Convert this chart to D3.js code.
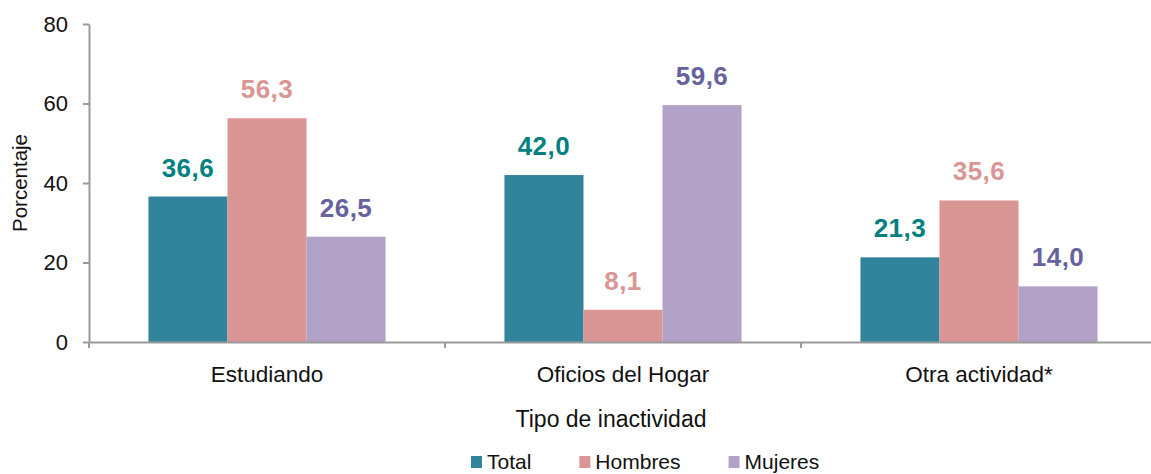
<!DOCTYPE html>
<html>
<head>
<meta charset="utf-8">
<script src="https://cdn.jsdelivr.net/npm/d3@7"></script>
<style>
  body{margin:0;background:#fff;}
  svg{display:block;font-family:"Liberation Sans",Arial,sans-serif;}
</style>
</head>
<body>
<div id="chart"></div>
<script>
const categories=["Estudiando","Oficios del Hogar","Otra actividad*"];
const seriesNames=["Total","Hombres","Mujeres"];
const totalValues=[36.6,42.0,21.3];
const hombresValues=[56.3,8.1,35.6];
const mujeresValues=[26.5,59.6,14.0];
const yTicks=[0,20,40,60,80];

const w=1151, h=474;
const plotLeft=89, plotRight=1157, plotTop=24, plotBottom=342;
const barColors=["#31849b","#d99694","#b3a2c7"];
const labelColors=["#008080","#d99694","#66629e"];
const axisColor="#999";

const seriesValues=[totalValues,hombresValues,mujeresValues];
const rows=categories.map((c,i)=>({cat:c, vals:seriesValues.map(s=>s[i])}));

const svg=d3.select("#chart").append("svg").attr("width",w).attr("height",h);

const y=d3.scaleLinear().domain([0,80]).range([plotBottom,plotTop]);
const x0=d3.scaleBand().domain(categories).range([plotLeft,plotRight]).paddingInner(0.334).paddingOuter(0.167);
const x1=d3.scaleBand().domain(seriesNames).range([0,x0.bandwidth()]);
const fmt=v=>d3.format(".1f")(v).replace(".",",");

// bars
const groups=svg.selectAll("g.grp").data(rows).enter().append("g")
  .attr("class","grp")
  .attr("transform",d=>`translate(${x0(d.cat)},0)`);
groups.selectAll("rect").data(d=>d.vals.map((v,j)=>({s:seriesNames[j],v,j}))).enter().append("rect")
  .attr("x",d=>x1(d.s))
  .attr("y",d=>y(d.v))
  .attr("width",x1.bandwidth())
  .attr("height",d=>y(0)-y(d.v))
  .attr("fill",d=>barColors[d.j]);
groups.selectAll("text").data(d=>d.vals.map((v,j)=>({s:seriesNames[j],v,j}))).enter().append("text")
  .attr("x",d=>x1(d.s)+x1.bandwidth()/2)
  .attr("y",d=>y(d.v)-20)
  .attr("text-anchor","middle")
  .style("font-size","26px")
  .style("font-weight","bold")
  .style("letter-spacing","0.5px")
  .attr("fill",d=>labelColors[d.j])
  .text(d=>fmt(d.v));

// y axis
const yAxis=d3.axisLeft(y).tickValues(yTicks).tickSize(6).tickSizeOuter(0).tickPadding(15);
const gy=svg.append("g").attr("transform",`translate(${plotLeft},0)`).call(yAxis);
gy.select(".domain").attr("stroke",axisColor).attr("stroke-width",2);
gy.selectAll(".tick line").attr("stroke",axisColor).attr("stroke-width",2);
gy.selectAll(".tick text").style("font-size","22px").attr("fill","#111").style("font-family","'Liberation Sans',Arial,sans-serif");

// x axis
const xAxis=d3.axisBottom(x0).tickSize(0).tickSizeOuter(0).tickPadding(24);
const gx=svg.append("g").attr("transform",`translate(0,${plotBottom})`).call(xAxis);
gx.select(".domain").attr("stroke",axisColor).attr("stroke-width",2);
gx.selectAll(".tick text").style("font-size","22.5px").attr("fill","#111").style("font-family","'Liberation Sans',Arial,sans-serif");
// category boundary ticks
gx.selectAll("line.sep").data(d3.range(categories.length+1)).enter().append("line")
  .attr("class","sep")
  .attr("x1",i=>plotLeft+i*x0.step()).attr("x2",i=>plotLeft+i*x0.step())
  .attr("y1",0).attr("y2",6)
  .attr("stroke",axisColor).attr("stroke-width",2);

// axis titles
svg.append("text")
  .text("Porcentaje")
  .attr("transform","translate(27,183) rotate(-90)")
  .attr("text-anchor","middle")
  .style("font-size","20.5px")
  .attr("fill","#111");
svg.append("text")
  .text("Tipo de inactividad")
  .attr("x",611).attr("y",427)
  .attr("text-anchor","middle")
  .style("font-size","23px")
  .attr("fill","#111");

// legend
const legend=svg.append("g").attr("transform","translate(471,0)");
let lx=0;
seriesNames.forEach((s,i)=>{
  const g=legend.append("g").attr("transform",`translate(${lx},0)`);
  g.append("rect").attr("x",0).attr("y",456).attr("width",11).attr("height",12).attr("fill",barColors[i]);
  const t=g.append("text").text(s).attr("x",16).attr("y",469).style("font-size","21px").attr("fill","#111");
  lx+=16+t.node().getComputedTextLength()+48;
});
</script>
</body>
</html>
